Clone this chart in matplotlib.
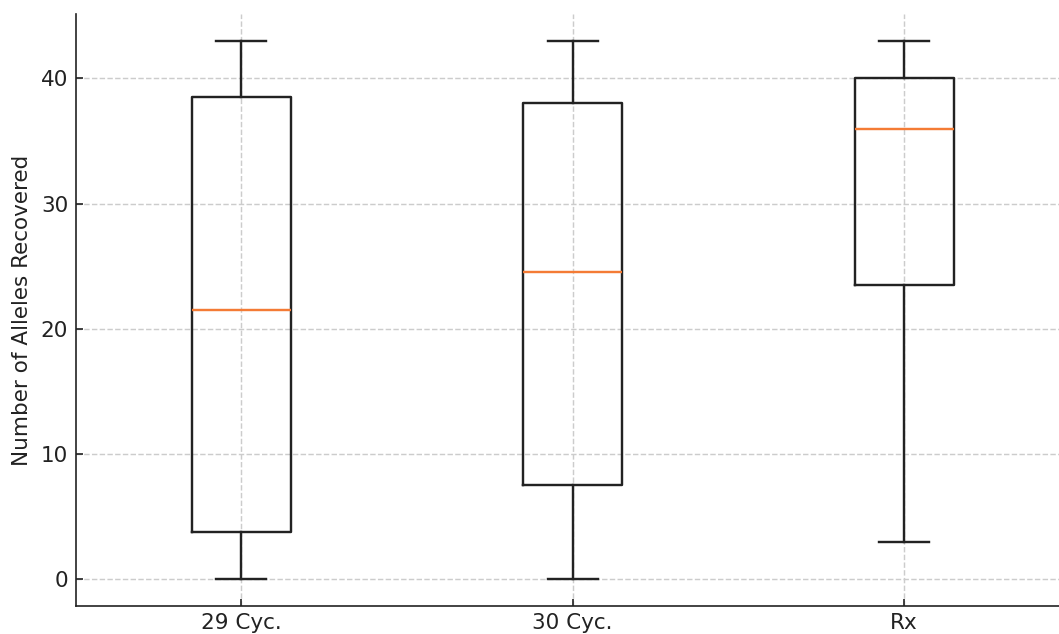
import matplotlib
matplotlib.use("Agg")
import matplotlib.pyplot as plt

# box summaries: lower whisker, Q1, median, Q3, upper whisker
groups = ["29 Cyc.", "30 Cyc.", "Rx"]
whisker_low = [0, 0, 3]
q1 = [3.75, 7.5, 23.5]
median = [21.5, 24.5, 36]
q3 = [38.5, 38, 40]
whisker_high = [43, 43, 43]

stats = [
    {"label": g, "whislo": lo, "q1": a, "med": m, "q3": b, "whishi": hi, "fliers": []}
    for g, lo, a, m, b, hi in zip(groups, whisker_low, q1, median, q3, whisker_high)
]

plt.rcParams["font.family"] = "DejaVu Sans"
plt.rcParams["font.size"] = 10.3

fig = plt.figure(figsize=(1059 / 150, 634 / 150), dpi=150)
ax = fig.add_axes([75.5 / 1059, 28 / 634, 994.5 / 1059, 592 / 634])

ink = "#222222"
lw = 1.15
ax.bxp(
    stats,
    widths=0.3,
    boxprops=dict(color=ink, linewidth=lw),
    whiskerprops=dict(color=ink, linewidth=lw),
    capprops=dict(color=ink, linewidth=lw),
    medianprops=dict(color="#f47b35", linewidth=lw),
    showfliers=False,
)

ax.set_ylabel("Number of Alleles Recovered", color=ink)
ax.grid(True, linestyle="--", color="#cccccc", linewidth=0.7)
ax.set_axisbelow(True)
ax.tick_params(direction="in", colors=ink, labelcolor=ink)
ax.spines["top"].set_visible(False)
ax.spines["right"].set_visible(False)
for s in ("left", "bottom"):
    ax.spines[s].set_color(ink)

fig.savefig("out.png", dpi=150)
